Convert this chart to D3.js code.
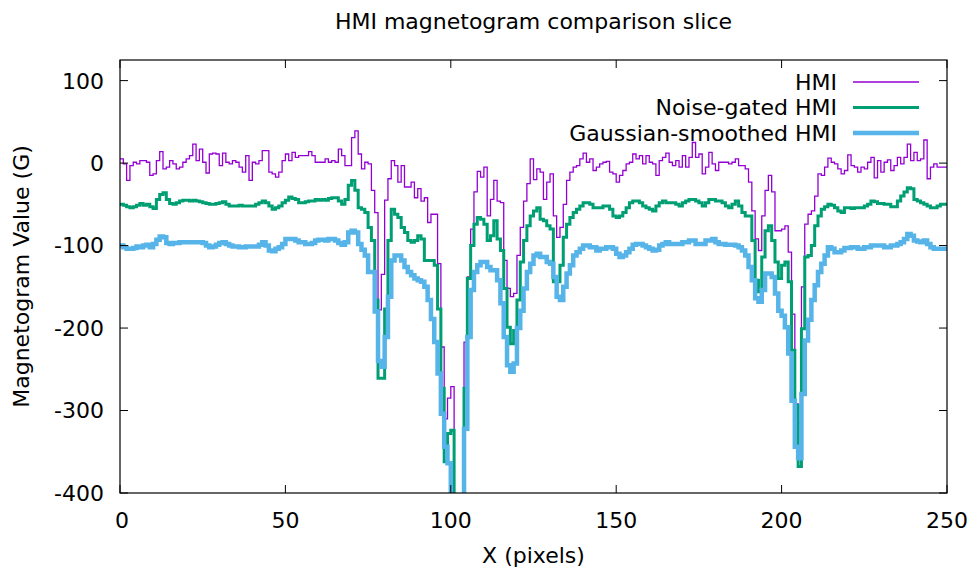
<!DOCTYPE html>
<html>
<head>
<meta charset="utf-8">
<script src="https://cdn.jsdelivr.net/npm/d3@7"></script>
<style>
    body { margin: 0; background: #ffffff; }
    svg { font-family: "DejaVu Sans", sans-serif; }
</style>
</head>
<body>
<div id="chart"></div>
<script>
// values, one per pixel column 0..250
const hmi = [
    5, -1, -21, -3, 1, -1, 3, 3, 1, -15, -13, 3, 14, -7, -5, 3, -1, -7, -5, 1,
    5, 9, 23, 3, 17, 1, -12, 11, 12, 11, -3, 12, 1, -1, 3, 1, -5, -11, 9, -21,
    1, -1, 3, 15, 15, -11, -13, -17, -11, 3, 11, 3, 13, 7, 9, 9, 9, 14, 9, 1,
    1, 1, 5, 1, 3, 1, 17, 9, -3, -3, 31, 39, 11, -7, 1, -1, -33, -60, -178, -135,
    -45, -19, 3, -3, -23, -3, -29, -29, -23, -42, -31, -46, -42, -72, -62, -62, -122, -223, -310, -285,
    -271, -440, -440, -440, -217, -138, -80, -35, -10, -17, -5, -64, -44, -21, -46, -48, -118, -152, -162, -158,
    -112, -78, -46, -25, 5, -20, -7, -11, -44, -23, -13, -64, -90, -78, -50, -21, -11, -5, -3, 5,
    12, 1, 5, -9, -5, -1, 1, 2, -11, -13, -23, -15, -9, -1, 1, 11, 5, 9, -1, 9,
    1, -1, -15, 3, 7, 12, 1, -3, 3, -5, 9, -5, 7, 25, 7, 11, -13, -5, 13, -1,
    -9, 1, 1, 1, -1, 1, 5, -3, -3, -7, -23, -58, -92, -106, -64, -33, -15, -35, -82, -82,
    -80, -76, -108, -183, -292, -316, -150, -74, -62, -58, -40, -13, -15, -5, 6, 1, -1, -7, -13, -9,
    10, -3, -5, -11, -5, -7, 1, 7, -18, 3, -11, 1, 4, -9, -3, 7, -1, 7, 23, 3,
    13, 3, 5, 28, -19, -5, -1, -5, -5, -5, -5
];

const noiseGated = [
    -50, -51, -53, -54, -53, -51, -49, -51, -50, -53, -55, -44, -38, -36, -44, -49, -50, -48, -46, -45,
    -45, -46, -45, -46, -47, -48, -49, -50, -50, -49, -48, -47, -50, -52, -52, -52, -51, -52, -52, -52,
    -52, -50, -48, -46, -48, -52, -56, -54, -52, -48, -45, -41, -43, -44, -48, -48, -47, -46, -46, -44,
    -45, -44, -45, -43, -42, -42, -46, -50, -44, -27, -21, -33, -54, -56, -60, -78, -94, -166, -261, -261,
    -177, -94, -56, -62, -66, -78, -84, -94, -96, -94, -88, -92, -118, -118, -118, -124, -177, -273, -362, -328,
    -324, -440, -440, -440, -273, -140, -100, -74, -66, -68, -74, -94, -88, -70, -92, -106, -152, -199, -219, -203,
    -166, -120, -94, -76, -64, -58, -54, -68, -70, -76, -80, -144, -144, -124, -90, -74, -66, -60, -56, -52,
    -48, -48, -50, -54, -54, -54, -52, -52, -56, -64, -66, -64, -60, -54, -48, -46, -46, -48, -52, -54,
    -56, -58, -52, -48, -46, -48, -48, -48, -50, -52, -48, -46, -44, -44, -46, -48, -52, -48, -44, -44,
    -46, -46, -48, -52, -54, -50, -46, -52, -60, -64, -64, -94, -142, -156, -114, -82, -76, -94, -120, -140,
    -124, -120, -144, -227, -294, -368, -201, -114, -112, -100, -76, -64, -56, -53, -50, -51, -54, -58, -60, -54,
    -54, -55, -54, -54, -54, -52, -50, -46, -47, -49, -49, -50, -50, -53, -53, -46, -40, -35, -30, -31,
    -44, -46, -48, -50, -52, -54, -54, -52, -50, -50, -50
];

const gaussianSmoothed = [
    -100, -102, -104, -104, -103, -101, -102, -100, -99, -102, -98, -93, -89, -90, -97, -98, -97, -97, -96, -96,
    -96, -96, -96, -96, -96, -97, -100, -102, -101, -99, -97, -96, -98, -100, -101, -101, -102, -102, -101, -101,
    -101, -101, -99, -96, -100, -106, -107, -104, -102, -98, -92, -92, -92, -94, -96, -96, -98, -98, -97, -94,
    -93, -93, -94, -92, -92, -94, -97, -99, -96, -84, -82, -84, -98, -105, -112, -132, -132, -180, -240, -247,
    -211, -162, -118, -112, -112, -118, -126, -132, -136, -140, -142, -144, -150, -166, -189, -217, -255, -304, -344, -364,
    -440, -440, -440, -440, -322, -211, -154, -132, -124, -120, -120, -126, -130, -130, -142, -170, -211, -245, -253, -243,
    -200, -179, -152, -132, -122, -112, -110, -114, -114, -120, -122, -138, -162, -166, -150, -134, -124, -112, -108, -104,
    -100, -100, -102, -102, -106, -104, -104, -102, -102, -104, -110, -114, -112, -108, -104, -99, -98, -98, -100, -102,
    -104, -106, -105, -100, -98, -96, -98, -98, -98, -98, -96, -96, -94, -94, -98, -98, -98, -94, -94, -92,
    -96, -98, -98, -99, -99, -99, -100, -102, -106, -112, -126, -142, -164, -168, -154, -134, -134, -138, -158, -179,
    -185, -199, -231, -288, -344, -358, -280, -215, -190, -166, -148, -132, -122, -112, -102, -104, -108, -108, -106, -103,
    -103, -102, -102, -104, -104, -102, -102, -100, -100, -100, -100, -102, -102, -100, -100, -98, -96, -92, -86, -88,
    -94, -95, -96, -94, -98, -102, -104, -104, -104, -104, -104
];

const seriesNames = ["HMI", "Noise-gated HMI", "Gaussian-smoothed HMI"];
const seriesColors = ["#9400d3", "#009e73", "#56b4e9"];
const seriesWidths = [1.3, 3, 4.5];

const xTicks = [0, 50, 100, 150, 200, 250];
const yTicks = [100, 0, -100, -200, -300, -400];
const xDomain = [0, 250];
const yDomain = [-400, 125];

const margin = { top: 60, right: 30, bottom: 81, left: 120 };
const width = 977 - margin.left - margin.right;
const height = 574 - margin.top - margin.bottom;
const tickLen = 8;
const fontSize = "22px";

function DrawFrame(svg, x, y) {
    // gnuplot style: ticks point inwards and are mirrored on the opposite side
    xTicks.forEach(t => {
        svg.append("line").attr("x1", x(t)).attr("x2", x(t))
            .attr("y1", height).attr("y2", height - tickLen)
            .attr("stroke", "#000").attr("stroke-width", 1);
        svg.append("line").attr("x1", x(t)).attr("x2", x(t))
            .attr("y1", 0).attr("y2", tickLen)
            .attr("stroke", "#000").attr("stroke-width", 1);
        svg.append("text")
            .attr("x", x(t) + (t === 0 ? 2 : 0))
            .attr("y", height + 35)
            .attr("text-anchor", "middle")
            .style("font-size", fontSize)
            .text(t);
    });

    yTicks.forEach(t => {
        svg.append("line").attr("x1", 0).attr("x2", tickLen)
            .attr("y1", y(t)).attr("y2", y(t))
            .attr("stroke", "#000").attr("stroke-width", 1);
        svg.append("line").attr("x1", width).attr("x2", width - tickLen)
            .attr("y1", y(t)).attr("y2", y(t))
            .attr("stroke", "#000").attr("stroke-width", 1);
        svg.append("text")
            .attr("x", -16)
            .attr("y", y(t))
            .attr("dy", "0.36em")
            .attr("text-anchor", "end")
            .style("font-size", fontSize)
            .text(t);
    });

    svg.append("rect")
        .attr("width", width)
        .attr("height", height)
        .attr("fill", "none")
        .attr("stroke", "#000")
        .attr("stroke-width", 1.2);
};

function DrawSeries(svg, x, y, values, color, lineWidth) {
    const points = values.map((v, i) => ({ px: i, value: v }));

    svg.append("path")
        .datum(points)
        .attr("clip-path", "url(#plotClip)")
        .attr("fill", "none")
        .attr("stroke", color)
        .attr("stroke-width", lineWidth)
        .attr("stroke-linejoin", "miter")
        .attr("d", d3.line()
            .curve(d3.curveStepAfter)
            .x(d => x(d.px))
            .y(d => y(d.value))
        );
};

function DrawLegend(svg) {
    seriesNames.forEach((name, i) => {
        const rowY = 22 + i * 25.5;
        svg.append("text")
            .attr("x", 717)
            .attr("y", rowY)
            .attr("dy", "0.36em")
            .attr("text-anchor", "end")
            .style("font-size", fontSize)
            .text(name);
        svg.append("line")
            .attr("x1", 733).attr("x2", 799)
            .attr("y1", rowY).attr("y2", rowY)
            .attr("stroke", seriesColors[i])
            .attr("stroke-width", seriesWidths[i]);
    });
};

function DrawGraph(divId) {
    const root = d3.select(`#${divId}`)
        .append("svg")
        .attr("width", 977)
        .attr("height", 574);

    root.append("text")
        .attr("x", margin.left + width / 2)
        .attr("y", 29)
        .attr("text-anchor", "middle")
        .style("font-size", fontSize)
        .text("HMI magnetogram comparison slice");

    root.append("text")
        .attr("x", margin.left + width / 2)
        .attr("y", 563)
        .attr("text-anchor", "middle")
        .style("font-size", fontSize)
        .text("X (pixels)");

    root.append("text")
        .attr("transform", `translate(29, ${margin.top + height / 2}) rotate(-90)`)
        .attr("text-anchor", "middle")
        .style("font-size", fontSize)
        .text("Magnetogram Value (G)");

    const svg = root.append("g")
        .attr("transform", `translate(${margin.left}, ${margin.top})`);

    svg.append("clipPath")
        .attr("id", "plotClip")
        .append("rect")
        .attr("width", width)
        .attr("height", height);

    const x = d3.scaleLinear().domain(xDomain).range([0, width]);
    const y = d3.scaleLinear().domain(yDomain).range([height, 0]);

    [hmi, noiseGated, gaussianSmoothed].forEach((values, i) => {
        DrawSeries(svg, x, y, values, seriesColors[i], seriesWidths[i]);
    });

    DrawFrame(svg, x, y);
    DrawLegend(svg);
};

DrawGraph("chart");
</script>
</body>
</html>
